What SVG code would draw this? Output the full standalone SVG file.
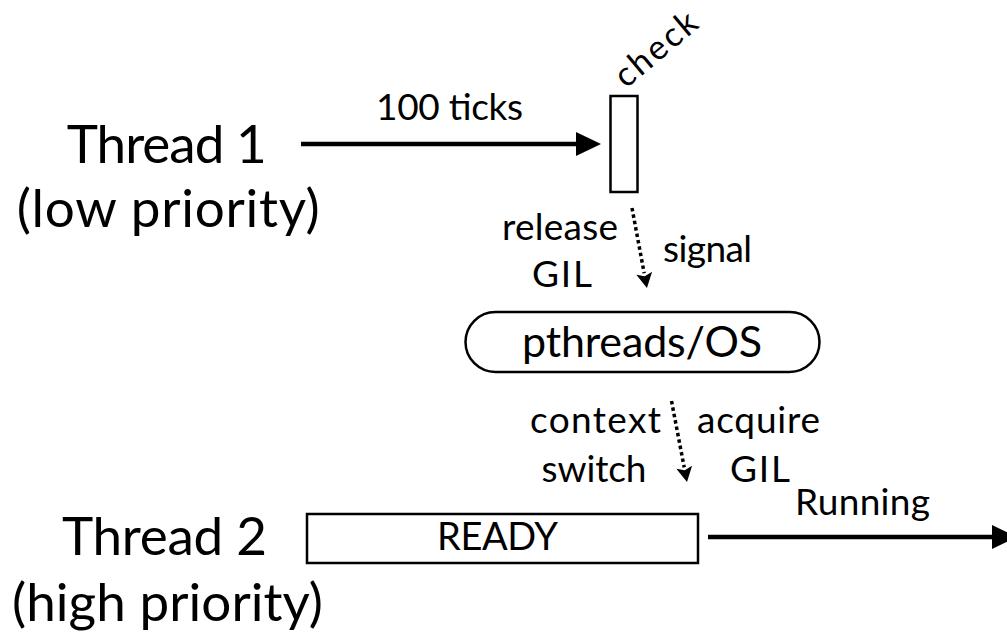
<svg xmlns="http://www.w3.org/2000/svg" width="1007" height="635" viewBox="0 0 1007 635">
  <style>
    text { font-family: "Lato", "Open Sans", "Liberation Sans", sans-serif; fill: #000; }
    .big { font-size: 53px; }
    .mid { font-size: 37px; }
    .sm { font-size: 37px; }
    .box { fill: #fff; stroke: #000; stroke-width: 2.5; }
    .solid { fill: none; stroke: #000; stroke-width: 4.5; }
    .dots { fill: none; stroke: #000; stroke-width: 3.5; stroke-dasharray: 3.5 3; }
  </style>
  <defs>
    <marker id="headSolid" markerUnits="userSpaceOnUse" markerWidth="26" markerHeight="26" refX="13" refY="12" orient="auto" overflow="visible">
      <path d="M0,0 L25,12 L0,24 z" fill="#000"/>
    </marker>
    <marker id="headSmall" markerUnits="userSpaceOnUse" markerWidth="16" markerHeight="18" refX="0" refY="0" orient="auto" overflow="visible">
      <path d="M0,-8 L15,0 L0,8 L3,0 z" fill="#000"/>
    </marker>
  </defs>
  <rect width="1007" height="635" fill="#fff"/>

  <!-- thread labels -->
  <g id="thread1">
    <text class="big" x="66.7" y="163" textLength="200">Thread 1</text>
    <text class="big" x="16.7" y="227" textLength="303">(low priority)</text>
  </g>
  <g id="thread2">
    <text class="big" x="62" y="555" textLength="205">Thread 2</text>
    <text class="big" x="12" y="621" textLength="311">(high priority)</text>
  </g>

  <!-- tick check box -->
  <g id="check">
    <rect class="box" x="610.5" y="96" width="27" height="96"/>
    <text font-size="34" transform="translate(626,89) rotate(-40)" textLength="97">check</text>
  </g>

  <!-- OS scheduler -->
  <g id="pthreads">
    <rect class="box" x="465.5" y="312" width="354" height="60" rx="30" ry="30" stroke-width="3"/>
    <text x="522" y="357" font-size="43" textLength="240">pthreads/OS</text>
  </g>

  <!-- waiting state of thread 2 -->
  <g id="ready">
    <rect class="box" x="307" y="514" width="391" height="49"/>
    <text x="437" y="550" font-size="38" textLength="121">READY</text>
  </g>

  <!-- connectors -->
  <g id="connectors">
    <line class="solid" x1="301" y1="144" x2="589" y2="144" marker-end="url(#headSolid)"/>
    <line class="solid" x1="708" y1="537" x2="1005" y2="537" marker-end="url(#headSolid)"/>
    <line class="dots" x1="632" y1="208" x2="644.2" y2="273.3" marker-end="url(#headSmall)"/>
    <line class="dots" x1="671.5" y1="401" x2="684.2" y2="467.3" marker-end="url(#headSmall)"/>
  </g>

  <!-- connector labels -->
  <g id="labels">
    <text class="mid" x="376" y="120" textLength="147">100 ticks</text>
    <text class="sm" x="502" y="240" font-size="38" textLength="116">release</text>
    <text class="sm" x="532" y="287" font-size="37" textLength="60">GIL</text>
    <text class="sm" x="663" y="262" font-size="38" textLength="89">signal</text>
    <text class="sm" x="530" y="433" textLength="131">context</text>
    <text class="sm" x="541.5" y="482" textLength="105">switch</text>
    <text class="sm" x="697" y="433" textLength="123">acquire</text>
    <text class="sm" x="730" y="482" font-size="35" textLength="60">GIL</text>
    <text class="sm" x="795" y="515" font-size="33" textLength="135">Running</text>
  </g>
</svg>
